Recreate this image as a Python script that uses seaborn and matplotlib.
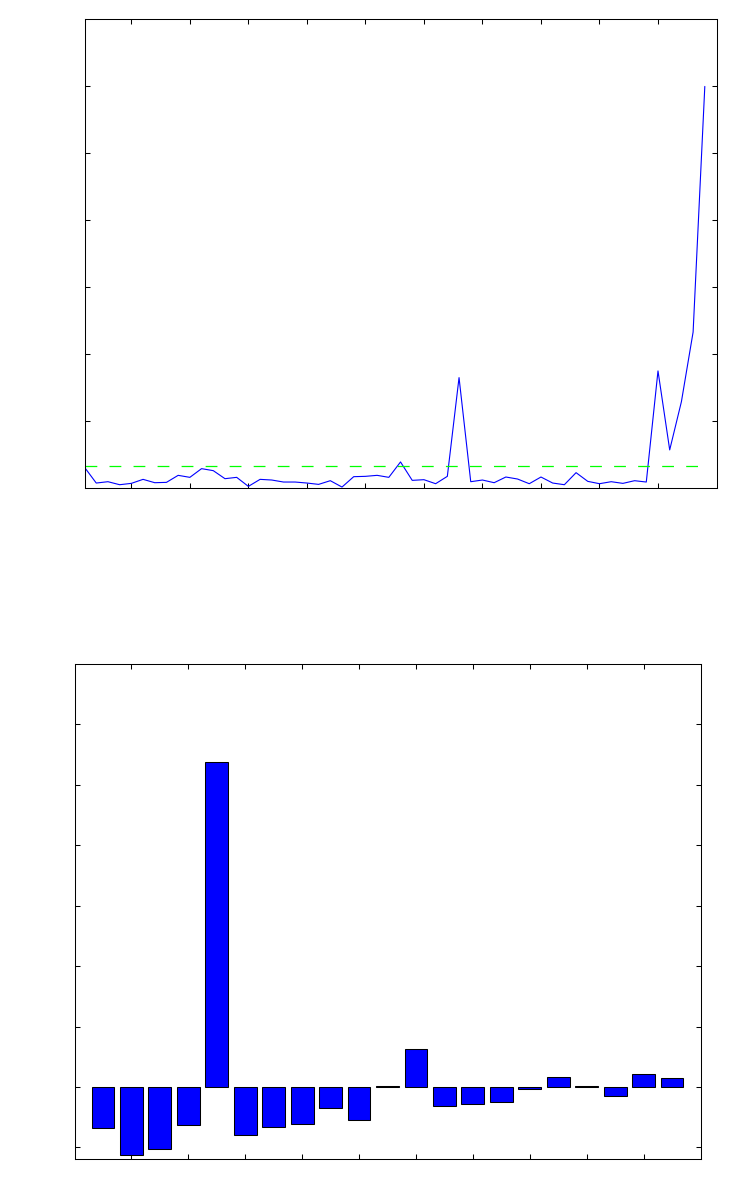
import numpy as np
import pandas as pd
import matplotlib
matplotlib.use("Agg")
import matplotlib.pyplot as plt
import seaborn as sns

# ---- data (top panel: line series) ----
line_x = list(range(2, 110, 2))
line_y = [0.31, 0.075, 0.095, 0.05, 0.07, 0.13, 0.08, 0.085, 0.19, 0.16,
          0.29, 0.26, 0.14, 0.16, 0.025, 0.13, 0.12, 0.09, 0.09, 0.075,
          0.055, 0.11, 0.015, 0.17, 0.175, 0.19, 0.16, 0.39, 0.115, 0.125,
          0.065, 0.175, 1.65, 0.095, 0.12, 0.08, 0.165, 0.135, 0.065, 0.165,
          0.075, 0.05, 0.23, 0.10, 0.065, 0.095, 0.07, 0.11, 0.09, 1.75,
          0.57, 1.29, 2.33, 6.0]
threshold_x = [2, 108]
threshold_y = [0.333, 0.333]

# ---- data (bottom panel: bars) ----
bar_x = list(range(1, 22))
bar_y = [-0.68, -1.13, -1.03, -0.63, 5.38, -0.80, -0.66, -0.61, -0.35, -0.55,
         0.02, 0.62, -0.32, -0.28, -0.25, -0.035, 0.17, 0.015, -0.15, 0.215, 0.15]

top_xticks = list(range(10, 101, 10))
top_yticks = list(range(1, 7))
bot_xticks = list(range(2, 21, 2))
bot_yticks = list(range(-1, 7))

sns.set_style("white")
plt.rcParams["lines.scale_dashes"] = False

fig = plt.figure(figsize=(7.37, 12.03), dpi=100)
ax1 = fig.add_axes([0.1147, 0.5943, 0.8575, 0.3895])
ax2 = fig.add_axes([0.1011, 0.0362, 0.8494, 0.4118])

df_line = pd.DataFrame({"x": line_x, "y": line_y})
sns.lineplot(data=df_line, x="x", y="y", ax=ax1, color="#0000FF", linewidth=0.8)
df_thr = pd.DataFrame({"x": threshold_x, "y": threshold_y})
sns.lineplot(data=df_thr, x="x", y="y", ax=ax1, color="#00FF00", linewidth=0.9,
             dashes=False)
ax1.lines[-1].set_dashes([8.5, 8.8])
ax1.set_xlim(2, 110)
ax1.set_ylim(0, 7)
ax1.set_xticks(top_xticks)
ax1.set_yticks(top_yticks)

df_bar = pd.DataFrame({"x": bar_x, "y": bar_y})
sns.barplot(data=df_bar, x="x", y="y", ax=ax2, native_scale=True, color="#0000FF",
            saturation=1, edgecolor="black", linewidth=0.75, width=0.8)
ax2.set_xlim(0, 22)
ax2.set_ylim(-1.2, 7)
ax2.set_xticks(bot_xticks)
ax2.set_yticks(bot_yticks)

for ax in (ax1, ax2):
    ax.set_xlabel("")
    ax.set_ylabel("")
    ax.set_xticklabels([])
    ax.set_yticklabels([])
    ax.tick_params(direction="in", length=3.8, width=0.75, color="black",
                   top=True, right=True, bottom=True, left=True)
    for s in ax.spines.values():
        s.set_visible(True)
        s.set_color("black")
        s.set_linewidth(0.75)

fig.savefig("out.png", dpi=100, facecolor="white")
